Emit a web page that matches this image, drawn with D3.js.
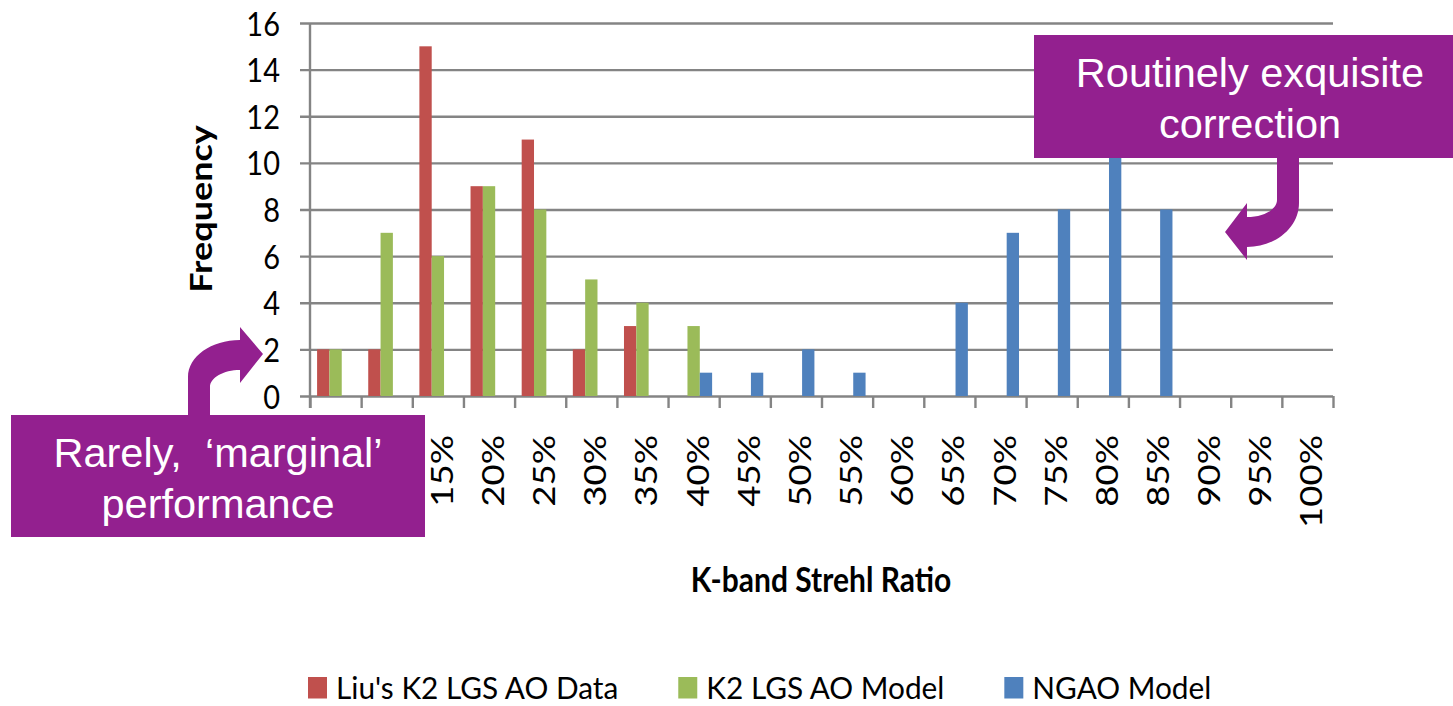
<!DOCTYPE html>
<html>
<head>
<meta charset="utf-8">
<script src="https://cdn.jsdelivr.net/npm/d3@7"></script>
<style>
  html, body { margin: 0; padding: 0; background: #ffffff; overflow: hidden; }
  svg { display: block; }
</style>
</head>
<body>
<svg id="chart" width="1453" height="706"></svg>
<script>
// Strehl ratio bins (upper edge of each 5% bin)
const categories = ["5%", "10%", "15%", "20%", "25%", "30%", "35%", "40%", "45%", "50%",
                    "55%", "60%", "65%", "70%", "75%", "80%", "85%", "90%", "95%", "100%"];

const seriesNames = ["Liu's K2 LGS AO Data", "K2 LGS AO Model", "NGAO Model"];

// Frequency counts per bin
const liuData   = [2, 2, 15, 9, 11, 2, 3, 0, 0, 0, 0, 0, 0, 0, 0, 0, 0, 0, 0, 0];
const k2Model   = [2, 7, 6, 9, 8, 5, 4, 3, 0, 0, 0, 0, 0, 0, 0, 0, 0, 0, 0, 0];
const ngaoModel = [0, 0, 0, 0, 0, 0, 0, 1, 1, 2, 1, 0, 4, 7, 8, 12, 8, 0, 0, 0];

const yTicks = [0, 2, 4, 6, 8, 10, 12, 14, 16];

const seriesColors = ["#C0504D", "#9BBB59", "#4F81BD"];

const calloutTop = ["Routinely exquisite", "correction"];
const calloutBottom = ["Rarely,  \u2018marginal\u2019", "performance"];

// ---- layout ----
const plot = { left: 310, right: 1333, top: 23, bottom: 396 };
const chartFont = "Lato, 'Open Sans', sans-serif";
const calloutFont = "'Liberation Sans', Arial, sans-serif";
const purple = "#93208F";
const gridColor = "#848484";

const svg = d3.select("#chart");

const x0 = d3.scaleBand().domain(categories).range([plot.left, plot.right]).padding(0);
const groupW = x0.step() * 0.723;
const x1 = d3.scaleBand().domain(seriesNames).range([0, groupW]).padding(0);
const y = d3.scaleLinear().domain([0, 16]).range([plot.bottom, plot.top]);
const edge = d3.scaleLinear().domain([0, categories.length]).range([plot.left, plot.right]);

// horizontal gridlines (with the outside tick marks of the value axis)
const grid = svg.append("g")
  .attr("transform", `translate(${plot.left - 10},0)`)
  .call(d3.axisLeft(y).tickValues(yTicks).tickSize(-(plot.right - plot.left + 10)).tickFormat(""));
grid.select(".domain").remove();
grid.selectAll(".tick line").attr("stroke", gridColor).attr("stroke-width", 2.4);

// category tick marks along the bottom
const xt = svg.append("g")
  .attr("transform", `translate(0,${plot.bottom})`)
  .call(d3.axisBottom(edge).tickValues(d3.range(categories.length + 1)).tickSize(12).tickFormat(""));
xt.select(".domain").remove();
xt.selectAll(".tick line").attr("stroke", gridColor).attr("stroke-width", 2.4);

// value axis line
svg.append("line")
  .attr("x1", plot.left).attr("x2", plot.left)
  .attr("y1", y(16)).attr("y2", plot.bottom + 12)
  .attr("stroke", gridColor).attr("stroke-width", 2.4);

// bars
const seriesValues = [liuData, k2Model, ngaoModel];
const barData = [];
seriesValues.forEach((vals, si) => {
  vals.forEach((v, ci) => {
    if (v > 0) barData.push({ series: seriesNames[si], color: seriesColors[si], cat: categories[ci], value: v });
  });
});
const groupOffset = (x0.step() - groupW) / 2;
svg.append("g").selectAll("rect").data(barData).join("rect")
  .attr("x", d => x0(d.cat) + groupOffset + x1(d.series))
  .attr("width", x1.bandwidth())
  .attr("y", d => y(d.value))
  .attr("height", d => y(0) - y(d.value))
  .attr("fill", d => d.color);

// value axis labels
svg.append("g").selectAll("text").data(yTicks).join("text")
  .attr("transform", d => `translate(${plot.left - 30},${y(d) + 12.5}) scale(1,1.1)`)
  .attr("text-anchor", "end")
  .attr("font-family", chartFont).attr("font-size", 29).attr("fill", "#000")
  .text(d => d);

// category labels, rotated
svg.append("g").selectAll("text").data(categories).join("text")
  .attr("transform", d => `translate(${x0(d) + x0.bandwidth() / 2 + 15},${plot.bottom + 39}) rotate(-90) scale(1.22,1)`)
  .attr("text-anchor", "end")
  .attr("font-family", chartFont).attr("font-size", 30).attr("fill", "#000")
  .text(d => d);

// axis titles
svg.append("text")
  .attr("transform", `translate(212,209) rotate(-90) scale(1.2,1)`)
  .attr("text-anchor", "middle")
  .attr("font-family", chartFont).attr("font-weight", "bold").attr("font-size", 30).attr("fill", "#000")
  .text("Frequency");

svg.append("text")
  .attr("transform", `translate(821,592) scale(1,1.12)`)
  .attr("text-anchor", "middle")
  .attr("font-family", chartFont).attr("font-weight", "bold").attr("font-size", 30).attr("fill", "#000")
  .text("K-band Strehl Ratio");

// legend
const legend = svg.append("g");
let lx = 308;
seriesNames.forEach((name, i) => {
  legend.append("rect")
    .attr("x", lx).attr("y", 677).attr("width", 19).attr("height", 21.5)
    .attr("fill", seriesColors[i]);
  const t = legend.append("text")
    .attr("transform", `translate(${lx + 28},699) scale(1,1.06)`)
    .attr("font-family", chartFont).attr("font-size", 29.8).attr("fill", "#000")
    .text(name);
  lx += 28 + t.node().getComputedTextLength() + 60;
});

// ---- callouts ----
const k = 0.5523; // quarter-ellipse bezier factor

function calloutBox(x, yTop, w, h, lines, cx, firstBase) {
  const g = svg.append("g");
  g.append("rect").attr("x", x).attr("y", yTop).attr("width", w).attr("height", h).attr("fill", purple);
  g.selectAll("text").data(lines).join("text")
    .attr("x", cx).attr("y", (d, i) => firstBase + i * 51)
    .attr("text-anchor", "middle")
    .style("white-space", "pre")
    .attr("font-family", calloutFont).attr("font-size", 41.5).attr("fill", "#fff")
    .text(d => d);
}

// upper-right note with a hooked arrow turning left
calloutBox(1034, 35, 440, 123, calloutTop, 1250, 87);
{
  const p = d3.path();
  p.moveTo(1277, 150);
  p.lineTo(1277, 200);
  p.bezierCurveTo(1277, 200 + k * 17, 1247 + k * 30, 217, 1247, 217);
  p.lineTo(1247, 203);
  p.lineTo(1225, 232);
  p.lineTo(1247, 260);
  p.lineTo(1247, 247);
  p.bezierCurveTo(1247 + k * 52, 247, 1299, 203 + k * 44, 1299, 203);
  p.lineTo(1299, 150);
  p.closePath();
  svg.append("path").attr("d", p.toString()).attr("fill", purple);
}

// lower-left note with a hooked arrow turning right
{
  const p = d3.path();
  p.moveTo(188, 420);
  p.lineTo(188, 377);
  p.bezierCurveTo(188, 377 - k * 37, 240 - k * 52, 340, 240, 340);
  p.lineTo(240, 327);
  p.lineTo(263, 354);
  p.lineTo(240, 383);
  p.lineTo(240, 370);
  p.bezierCurveTo(240 - k * 30, 370, 210, 387 - k * 17, 210, 387);
  p.lineTo(210, 420);
  p.closePath();
  svg.append("path").attr("d", p.toString()).attr("fill", purple);
}
calloutBox(11, 415, 414, 122, calloutBottom, 218, 467);
</script>
</body>
</html>
